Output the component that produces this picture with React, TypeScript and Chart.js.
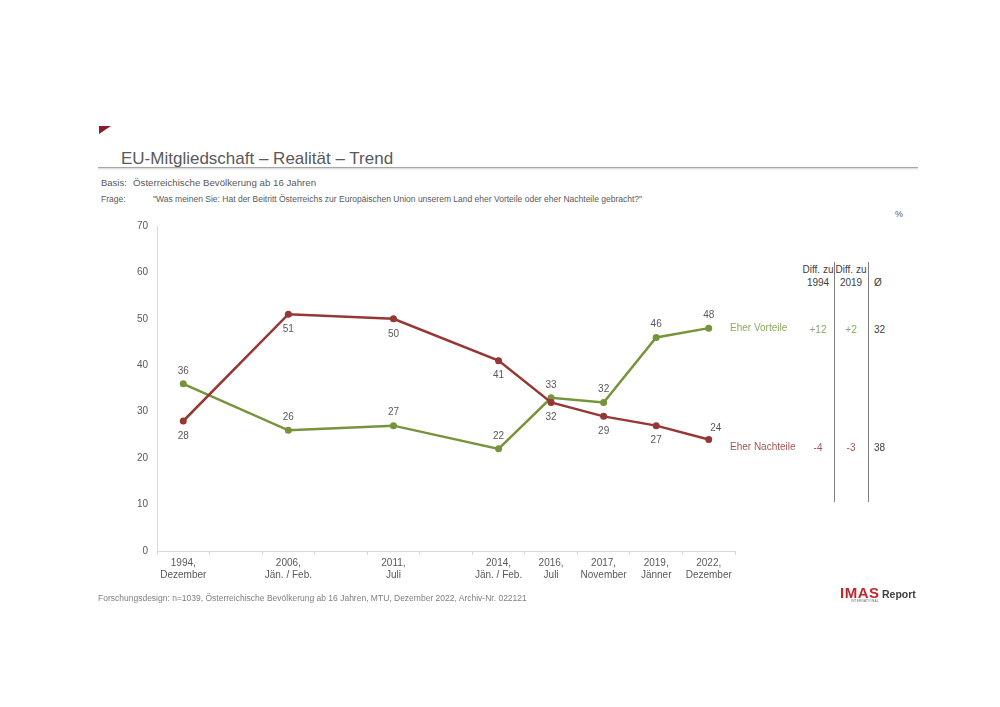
import React, { useEffect, useRef } from "react";
import { Chart, registerables } from "chart.js";

Chart.register(...registerables);

const categories: string[][] = [
  ["1994,", "Dezember"],
  [""],
  ["2006,", "Jän. / Feb."],
  [""],
  ["2011,", "Juli"],
  [""],
  ["2014,", "Jän. / Feb."],
  ["2016,", "Juli"],
  ["2017,", "November"],
  ["2019,", "Jänner"],
  ["2022,", "Dezember"],
];

const vorteile: (number | null)[] = [36, null, 26, null, 27, null, 22, 33, 32, 46, 48];
const nachteile: (number | null)[] = [28, null, 51, null, 50, null, 41, 32, 29, 27, 24];

const yTicks = [0, 10, 20, 30, 40, 50, 60, 70];

const diffHeaders = [["Diff. zu", "1994"], ["Diff. zu", "2019"], ["", "Ø"]];
const vorteileDiffs = ["+12", "+2", "32"];
const nachteileDiffs = ["-4", "-3", "38"];

const GREEN = "#77933c";
const RED = "#953735";
const FONT = "'Liberation Sans', Arial, sans-serif";

const dataLabelPlugin = {
  id: "dataLabels",
  afterDatasetsDraw(chart: any) {
    const ctx = chart.ctx;
    ctx.save();
    ctx.font = `10px ${FONT}`;
    ctx.fillStyle = "#595959";
    ctx.textAlign = "center";
    ctx.textBaseline = "middle";
    chart.data.datasets.forEach((ds: any, di: number) => {
      const meta = chart.getDatasetMeta(di);
      const last = ds.data.length - 1;
      meta.data.forEach((pt: any, i: number) => {
        const v = ds.data[i];
        if (v === null || v === undefined) return;
        let dx = 0;
        let dy = ds.labelBelow ? 15 : -13;
        if (ds.labelBelow && i === last) {
          dx = 7;
          dy = -11;
        }
        ctx.fillText(String(v), pt.x + dx, pt.y + dy);
      });
    });
    ctx.restore();
  },
};

function ChartCanvas() {
  const ref = useRef<HTMLCanvasElement>(null);
  useEffect(() => {
    if (!ref.current) return;
    Chart.defaults.font.family = FONT;
    const chart = new Chart(ref.current, {
      type: "line",
      data: {
        labels: categories,
        datasets: [
          {
            label: "Eher Nachteile",
            data: nachteile,
            borderColor: RED,
            backgroundColor: RED,
            pointBackgroundColor: RED,
            pointBorderWidth: 0,
            pointRadius: 3.5,
            borderWidth: 2.5,
            spanGaps: true,
            tension: 0,
            order: 0,
            labelBelow: true,
          } as any,
          {
            label: "Eher Vorteile",
            data: vorteile,
            borderColor: GREEN,
            backgroundColor: GREEN,
            pointBackgroundColor: GREEN,
            pointBorderWidth: 0,
            pointRadius: 3.5,
            borderWidth: 2.5,
            spanGaps: true,
            tension: 0,
            order: 1,
            labelBelow: false,
          } as any,
        ],
      },
      options: {
        responsive: false,
        animation: false,
        layout: { padding: { top: 26, right: 25, left: 0, bottom: 0 } },
        plugins: {
          legend: { display: false },
          tooltip: { enabled: false },
        },
        scales: {
          x: {
            type: "category",
            offset: true,
            grid: {
              offset: true,
              drawOnChartArea: false,
              drawTicks: true,
              tickLength: 4,
              color: "#d9d9d9",
            },
            border: { color: "#d9d9d9", width: 1 },
            ticks: {
              autoSkip: false,
              maxRotation: 0,
              minRotation: 0,
              padding: 2,
              color: "#595959",
              font: { size: 10, family: FONT, lineHeight: 1.2 },
            },
            afterFit: (s: any) => {
              s.height = 49;
            },
          },
          y: {
            min: 0,
            max: 70,
            afterBuildTicks: (s: any) => {
              s.ticks = yTicks.map((v) => ({ value: v }));
            },
            grid: { display: false, drawTicks: false },
            border: { color: "#d9d9d9", width: 1 },
            ticks: {
              padding: 9,
              color: "#595959",
              font: { size: 10, family: FONT },
            },
            afterFit: (s: any) => {
              s.width = 57;
            },
          },
        },
      },
      plugins: [dataLabelPlugin],
    } as any);
    return () => chart.destroy();
  }, []);
  return (
    <canvas
      ref={ref}
      width={660}
      height={400}
      style={{ position: "absolute", left: 100, top: 200, width: 660, height: 400 }}
    />
  );
}

const abs = (left: number, top: number, extra: React.CSSProperties = {}): React.CSSProperties => ({
  position: "absolute",
  left,
  top,
  whiteSpace: "nowrap",
  ...extra,
});

export default function App() {
  const colX = [818, 851, 878];
  return (
    <div
      style={{
        position: "absolute",
        left: 0,
        top: 0,
        width: 1000,
        height: 707,
        background: "#fff",
        overflow: "hidden",
        fontFamily: FONT,
        color: "#595959",
      }}
    >
      {/* red corner flag */}
      <div
        style={abs(99, 126, {
          width: 12,
          height: 8,
          background: "#8b1a2e",
          clipPath: "polygon(0 0, 100% 0, 0 100%)",
        })}
      />
      <div style={abs(121, 149, { fontSize: 17, lineHeight: "19px", color: "#595959" })}>
        EU-Mitgliedschaft – Realität – Trend
      </div>
      <div
        style={abs(98, 167, {
          width: 820,
          height: 1,
          background: "#a6a6a6",
          boxShadow: "0 1px 2px rgba(0,0,0,0.25)",
        })}
      />
      <div style={abs(101, 177, { fontSize: 9.5, lineHeight: "11px", color: "#595959" })}>
        Basis:
      </div>
      <div style={abs(133, 177, { fontSize: 9.7, lineHeight: "11px", color: "#595959" })}>
        Österreichische Bevölkerung ab 16 Jahren
      </div>
      <div style={abs(101, 194, { fontSize: 8.5, lineHeight: "10px", color: "#595959" })}>
        Frage:
      </div>
      <div style={abs(153, 194, { fontSize: 8.5, lineHeight: "10px", color: "#595959" })}>
        "Was meinen Sie: Hat der Beitritt Österreichs zur Europäischen Union unserem Land eher Vorteile oder eher Nachteile gebracht?"
      </div>
      <div style={abs(895, 209, { fontSize: 9, lineHeight: "10px", color: "#595959" })}>%</div>

      <ChartCanvas />

      {/* right-hand legend and difference table */}
      <div style={abs(730, 322, { fontSize: 10, lineHeight: "12px", color: "#8fa85e" })}>Eher Vorteile</div>
      <div style={abs(730, 441, { fontSize: 10, lineHeight: "12px", color: "#a65553" })}>Eher Nachteile</div>

      {diffHeaders.map((h, i) => (
        <div
          key={"h" + i}
          style={abs(colX[i] - 20, 263, {
            width: 40,
            textAlign: "center",
            fontSize: 10,
            lineHeight: "13px",
            color: "#404040",
          })}
        >
          {h[0] || "\u00a0"}
          <br />
          {h[1]}
        </div>
      ))}
      {vorteileDiffs.map((t, i) => (
        <div
          key={"v" + i}
          style={abs(i === 2 ? 874 : colX[i] - 20, 324, {
            width: i === 2 ? "auto" : 40,
            textAlign: i === 2 ? "left" : "center",
            fontSize: 10,
            lineHeight: "12px",
            color: i === 2 ? "#404040" : "#8fa85e",
          })}
        >
          {t}
        </div>
      ))}
      {nachteileDiffs.map((t, i) => (
        <div
          key={"n" + i}
          style={abs(i === 2 ? 874 : colX[i] - 20, 442, {
            width: i === 2 ? "auto" : 40,
            textAlign: i === 2 ? "left" : "center",
            fontSize: 10,
            lineHeight: "12px",
            color: i === 2 ? "#404040" : "#a65553",
          })}
        >
          {t}
        </div>
      ))}
      <div style={abs(834, 262, { width: 1, height: 240, background: "#7f7f7f" })} />
      <div style={abs(868, 262, { width: 1, height: 240, background: "#7f7f7f" })} />

      <div style={abs(98, 593, { fontSize: 8.5, lineHeight: "10px", color: "#7f7f7f" })}>
        Forschungsdesign: n=1039, Österreichische Bevölkerung ab 16 Jahren, MTU, Dezember 2022, Archiv-Nr. 022121
      </div>

      {/* logo */}
      <div style={abs(840, 585, { fontSize: 15, lineHeight: "15px", fontWeight: 900, color: "#c0272d", letterSpacing: 0.5 })}>
        IMAS
      </div>
      <div style={abs(882, 588, { fontSize: 10.5, lineHeight: "12px", fontWeight: 700, color: "#404040" })}>
        Report
      </div>
      <div style={abs(851, 600, { fontSize: 3, lineHeight: "3px", color: "#666", letterSpacing: 0.3 })}>
        INTERNATIONAL
      </div>
    </div>
  );
}
